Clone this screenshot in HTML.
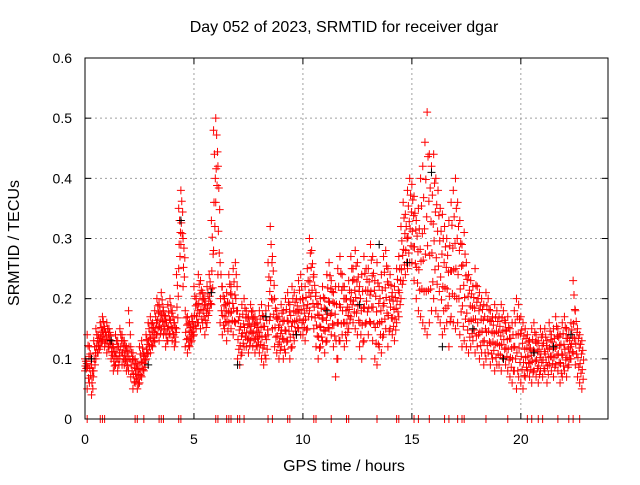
<!DOCTYPE html>
<html><head><meta charset="utf-8"><style>
body{margin:0;background:#fff}
svg text{font-family:"Liberation Sans",sans-serif;fill:#000}
</style></head><body>
<svg id="chart" width="640" height="480" viewBox="0 0 640 480" xmlns="http://www.w3.org/2000/svg">
<rect width="640" height="480" fill="#fff"/>
<g id="grid"></g>
<g id="marks"></g>
<rect x="85" y="58" width="523" height="361" fill="none" stroke="#000" stroke-width="1"/>
<g id="ticks"></g>
<text x="344" y="32" font-size="16" text-anchor="middle">Day 052 of 2023, SRMTID for receiver dgar</text>
<text x="344" y="471" font-size="16" text-anchor="middle">GPS time / hours</text>
<text x="19" y="243" font-size="16" text-anchor="middle" transform="rotate(-90 19 243)">SRMTID / TECUs</text>
</svg>
<script>
const xTicks=[0,5,10,15,20];
const yTicks=[0,0.1,0.2,0.3,0.4,0.5,0.6];
const yTickLabels=["0","0.1","0.2","0.3","0.4","0.5","0.6"];
const tStart=0, tStep=0.1;
const hiVals=[.10,.14,.12,.09,.13,.15,.14,.16,.17,.15,
.16,.15,.13,.12,.14,.13,.15,.14,.13,.12,
.18,.12,.11,.10,.09,.12,.13,.11,.14,.16,
.17,.16,.18,.20,.19,.21,.18,.17,.19,.20,
.18,.16,.24,.35,.38,.30,.18,.17,.16,.17,
.22,.20,.24,.23,.21,.20,.22,.24,.33,.48,
.50,.42,.26,.22,.20,.21,.24,.22,.25,.26,
.18,.17,.19,.20,.18,.17,.19,.18,.17,.16,
.18,.19,.17,.18,.26,.32,.27,.20,.18,.17,
.19,.18,.20,.21,.19,.22,.21,.20,.23,.24,
.20,.22,.25,.30,.28,.24,.21,.19,.20,.22,
.20,.24,.26,.23,.21,.22,.25,.27,.24,.22,
.20,.23,.27,.25,.28,.26,.22,.24,.27,.25,
.25,.29,.27,.23,.26,.22,.24,.27,.28,.25,
.24,.21,.22,.25,.27,.32,.36,.34,.38,.40,
.39,.37,.33,.35,.40,.42,.46,.51,.44,.42,
.44,.40,.38,.35,.34,.32,.30,.33,.36,.38,
.40,.36,.33,.29,.31,.26,.24,.23,.22,.25,
.22,.21,.20,.19,.21,.20,.18,.17,.19,.18,
.17,.19,.18,.16,.17,.15,.16,.18,.20,.19,
.17,.16,.15,.14,.13,.15,.16,.14,.13,.15,
.14,.15,.13,.16,.14,.15,.17,.15,.14,.16,
.17,.15,.14,.16,.23,.18,.15,.14,.13];
const loVals=[.08,.05,.06,.04,.08,.10,.11,.12,.13,.12,
.11,.12,.10,.08,.09,.08,.10,.09,.09,.08,
.08,.07,.05,.06,.05,.06,.07,.08,.10,.11,
.11,.12,.13,.14,.13,.15,.14,.12,.13,.14,
.13,.12,.15,.25,.29,.22,.12,.11,.12,.13,
.14,.15,.16,.15,.16,.14,.16,.18,.19,.28,
.36,.24,.16,.14,.15,.13,.16,.15,.14,.16,
.10,.09,.11,.12,.12,.11,.13,.12,.11,.12,
.11,.10,.09,.10,.14,.17,.15,.12,.11,.10,
.12,.10,.11,.13,.10,.12,.13,.14,.15,.14,
.14,.13,.15,.18,.17,.15,.12,.10,.12,.13,
.11,.13,.15,.14,.12,.07,.10,.13,.14,.12,
.13,.15,.17,.16,.15,.14,.12,.10,.13,.16,
.14,.16,.13,.10,.09,.12,.11,.14,.15,.12,
.15,.14,.13,.16,.17,.20,.23,.24,.25,.26,
.26,.23,.20,.18,.17,.16,.15,.14,.16,.18,
.20,.18,.17,.16,.14,.15,.16,.12,.17,.16,
.15,.16,.14,.12,.13,.12,.11,.12,.13,.11,
.12,.10,.11,.09,.10,.11,.09,.10,.08,.09,
.09,.08,.10,.09,.08,.07,.06,.08,.05,.07,
.06,.05,.07,.08,.07,.06,.08,.07,.06,.08,
.07,.08,.06,.09,.08,.07,.09,.08,.06,.07,
.08,.07,.09,.10,.11,.09,.07,.06,.05];
const blackTimes=[0.3,1.2,2.9,4.4,5.8,7.0,8.3,9.7,11.1,12.6,13.5,14.8,15.9,16.4,17.8,19.2,20.6,21.5,22.3];
const blackVals=[0.10,0.13,0.09,0.33,0.21,0.09,0.17,0.14,0.18,0.19,0.29,0.26,0.41,0.12,0.15,0.10,0.11,0.12,0.14];
const zeroTimes=[0.1,0.7,0.8,0.9,2.3,2.4,2.7,3.4,3.5,3.6,4.3,4.4,6.0,6.1,6.5,6.6,6.7,7.0,7.1,7.3,8.4,8.6,9.3,9.4,10.5,10.6,11.3,12.0,12.1,13.4,14.3,14.4,15.1,15.3,15.8,16.5,16.7,17.1,17.3,17.4,18.4,19.4,20.3,20.5,20.8,21.0,21.7,22.2,22.4,22.7];

const X0=85,X1=608,Y0=419,Y1=58;
const xS=t=>X0+(t/24)*(X1-X0);
const yS=v=>Y0-(v/0.6)*(Y0-Y1);
const NS="http://www.w3.org/2000/svg";
const grid=document.getElementById('grid'),ticks=document.getElementById('ticks'),marks=document.getElementById('marks');
function ln(p,x1,y1,x2,y2,st,dash){const l=document.createElementNS(NS,'line');l.setAttribute('x1',x1);l.setAttribute('y1',y1);l.setAttribute('x2',x2);l.setAttribute('y2',y2);l.setAttribute('stroke',st);if(dash)l.setAttribute('stroke-dasharray',dash);p.appendChild(l);return l;}
function tx(p,x,y,s,anchor){const t=document.createElementNS(NS,'text');t.setAttribute('x',x);t.setAttribute('y',y);t.setAttribute('font-size','14');t.setAttribute('text-anchor',anchor);t.textContent=s;p.appendChild(t);return t;}
xTicks.forEach(v=>{const x=xS(v);
 if(v>0){const g=ln(grid,x,Y1,x,Y0,'#a0a0a0','2,3');
 
 }
 ln(ticks,x,Y0,x,Y0-6,'#000');ln(ticks,x,Y1,x,Y1+6,'#000');
 const t=tx(ticks,x,444,String(v),'middle');
 
 });
yTicks.forEach((v,i)=>{const y=yS(v);
 if(v>0&&v<0.6){const g=ln(grid,X0,y,X1,y,'#a0a0a0','2,3');
 
 }
 ln(ticks,X0,y,X0+6,y,'#000');ln(ticks,X1,y,X1-6,y,'#000');
 const t=tx(ticks,72,y+5,yTickLabels[i],'end');
 
 });
function plus(t,v,col){const x=xS(t),y=yS(v);const p=document.createElementNS(NS,'path');
 p.setAttribute('d',`M${x-4},${y}h8M${x},${y-4}v8`);p.setAttribute('stroke',col);p.setAttribute('fill','none');
 
 
 marks.appendChild(p);}
hiVals.forEach((h,i)=>{const lo=loVals[i],t=tStart+i*tStep;
 [0,0.2,0.4,0.6,0.8,1].forEach((f,k)=>{plus(t+((k*3)%5)*0.02,lo+(h-lo)*f,'#ff0000');});});
blackTimes.forEach((t,i)=>plus(t,blackVals[i],'#000'));
zeroTimes.forEach(t=>{const x=xS(t);const p=ln(marks,x,Y0-4,x,Y0+4,'#ff0000');
 
 });
</script>
</body></html>
